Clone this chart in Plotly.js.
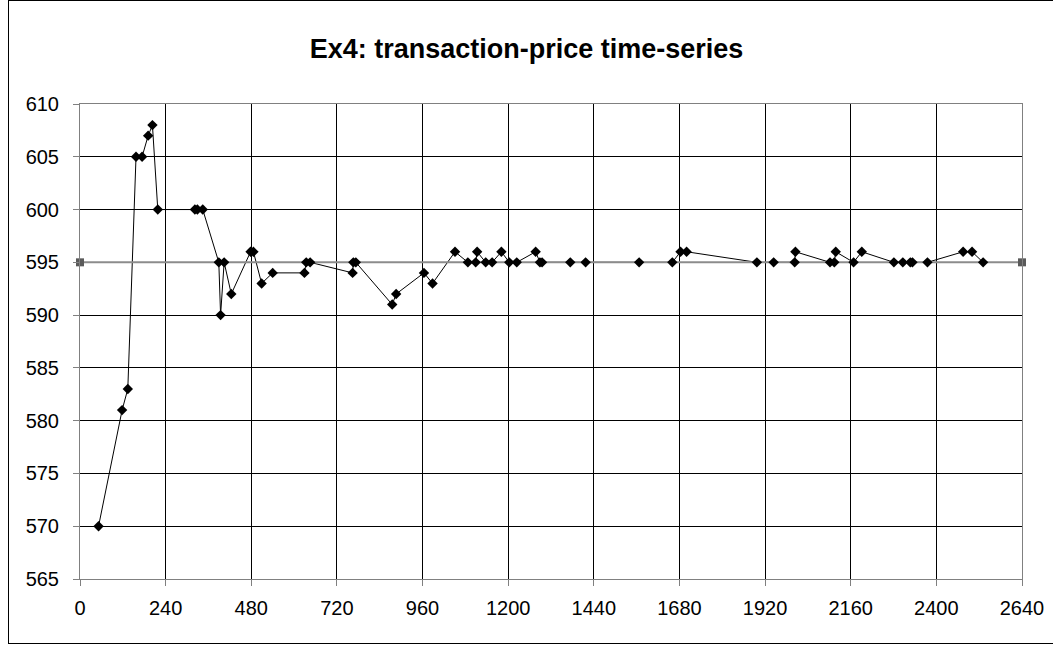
<!DOCTYPE html>
<html>
<head>
<meta charset="utf-8">
<script src="https://cdn.plot.ly/plotly-3.0.1.min.js"></script>
<style>
  html, body { margin: 0; padding: 0; background: #fff; }
  #frame { position: absolute; left: 8px; top: 0px; width: 1100px; height: 644px; border: 1px solid #000; box-sizing: border-box; }
  #chart { position: absolute; left: 0; top: 0; width: 1053px; height: 645px; }
</style>
</head>
<body>
<div id="frame"></div>
<div id="chart"></div>
<script>
// Transaction times (x) and prices (y)
const times = [52, 118, 134, 157, 174, 191, 203, 218, 322, 329, 344, 389, 394, 404, 424, 478, 486, 509, 540, 629, 634, 645, 764, 766, 773, 875, 886, 964, 988, 1051, 1087, 1109, 1113, 1137, 1155, 1181, 1203, 1224, 1277, 1289, 1295, 1374, 1417, 1567, 1660, 1683, 1700, 1897, 1944, 2003, 2005, 2102, 2114, 2118, 2168, 2191, 2281, 2306, 2327, 2333, 2375, 2475, 2500, 2531];
const prices = [570, 581, 583, 605, 605, 607, 608, 600, 600, 600, 600, 595, 590, 595, 592, 596, 596, 593, 594, 594, 595, 595, 594, 595, 595, 591, 592, 594, 593, 596, 595, 595, 596, 595, 595, 596, 595, 595, 596, 595, 595, 595, 595, 595, 595, 596, 596, 595, 595, 595, 596, 595, 595, 596, 595, 596, 595, 595, 595, 595, 595, 596, 596, 595];
// Equilibrium price line
const eqTimes = [0, 2640];
const eqPrices = [595, 595];
const xTicks = [0, 240, 480, 720, 960, 1200, 1440, 1680, 1920, 2160, 2400, 2640];
const yTicks = [565, 570, 575, 580, 585, 590, 595, 600, 605, 610];

const traces = [
  { x: times, y: prices, type: 'scatter', mode: 'lines', line: { color: '#000', width: 1 }, hoverinfo: 'skip', showlegend: false },
  { x: eqTimes, y: eqPrices, type: 'scatter', mode: 'lines+markers', line: { color: '#8c8c8c', width: 2 }, marker: { symbol: 'square', size: 8, color: '#5a5a5a' }, cliponaxis: false, showlegend: false },
  { x: times, y: prices, type: 'scatter', mode: 'markers', marker: { symbol: 'diamond', size: 8, color: '#000' }, showlegend: false }
];

const layout = {
  width: 1053, height: 645,
  margin: { l: 80, r: 31, t: 104, b: 66 },
  paper_bgcolor: 'rgba(0,0,0,0)', plot_bgcolor: '#fff',
  font: { family: 'Liberation Sans, Arial, sans-serif', color: '#000', size: 20 },
  title: { text: '<b>Ex4: transaction-price time-series</b>', x: 0.5, xanchor: 'center', y: 1 - 49/645, yanchor: 'middle', font: { size: 27, family: 'Liberation Sans, Arial, sans-serif', color: '#000' } },
  xaxis: {
    range: [0, 2640], tickmode: 'array', tickvals: xTicks, ticktext: xTicks.map(String),
    showgrid: true, gridcolor: '#000', gridwidth: 1, zeroline: false,
    showline: true, linecolor: '#808080', linewidth: 1, mirror: true,
    ticks: 'outside', ticklen: 6, tickcolor: '#808080', tickfont: { size: 20 }, ticklabelstandoff: 5
  },
  yaxis: {
    range: [565, 610], tickmode: 'array', tickvals: yTicks, ticktext: yTicks.map(String),
    showgrid: true, gridcolor: '#000', gridwidth: 1, zeroline: false,
    showline: true, linecolor: '#808080', linewidth: 1, mirror: true,
    ticks: 'outside', ticklen: 6, tickcolor: '#808080', tickfont: { size: 20 }, ticklabelstandoff: 10
  }
};

Plotly.newPlot('chart', traces, layout, { displayModeBar: false, staticPlot: true });
</script>
</body>
</html>
